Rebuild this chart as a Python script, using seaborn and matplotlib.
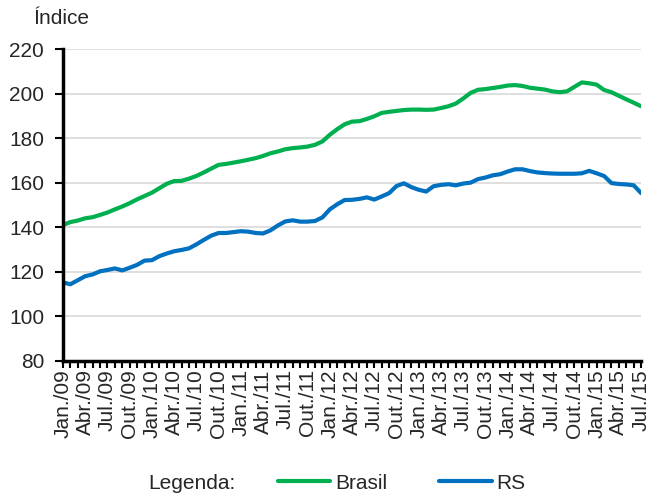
import matplotlib
matplotlib.use("Agg")
import matplotlib.pyplot as plt
from matplotlib.lines import Line2D
import seaborn as sns
import pandas as pd
import numpy as np

months_pt = ["Jan.", "Fev.", "Mar.", "Abr.", "Mai.", "Jun.", "Jul.", "Ago.", "Set.", "Out.", "Nov.", "Dez."]
periods = [f"{months_pt[m]}/{y:02d}" for y in range(9, 16) for m in range(12)][:79]

brasil = [141.0, 142.3, 143.0, 144.0, 144.5, 145.5, 146.6, 148.0, 149.3, 150.8,
          152.5, 154.0, 155.5, 157.5, 159.5, 160.7, 160.8, 161.8, 163.0, 164.6,
          166.3, 168.0, 168.4, 169.0, 169.6, 170.3, 171.0, 172.0, 173.2, 174.0,
          175.0, 175.5, 175.8, 176.2, 177.0, 178.5, 181.5, 184.0, 186.2, 187.4,
          187.6, 188.6, 189.8, 191.3, 191.8, 192.2, 192.6, 192.8, 192.8, 192.7,
          192.8, 193.5, 194.3, 195.5, 197.8, 200.3, 201.7, 202.0, 202.5, 203.0,
          203.6, 203.8, 203.4, 202.6, 202.2, 201.8, 201.0, 200.6, 201.0, 203.0,
          205.0, 204.6, 204.0, 201.6, 200.6, 199.0, 197.4, 195.9, 194.3]

rs = [115.2, 114.4, 116.2, 118.0, 118.8, 120.2, 120.8, 121.5, 120.6, 121.8,
      123.1, 125.0, 125.2, 127.0, 128.2, 129.2, 129.8, 130.5, 132.3, 134.3,
      136.2, 137.4, 137.4, 137.8, 138.2, 138.0, 137.4, 137.2, 138.6, 140.8,
      142.6, 143.1, 142.5, 142.5, 142.8, 144.4, 148.0, 150.3, 152.2, 152.3,
      152.7, 153.4, 152.4, 153.8, 155.3, 158.5, 159.7, 158.0, 156.8, 156.0,
      158.4, 159.0, 159.3, 158.8, 159.6, 160.0, 161.6, 162.3, 163.3, 163.8,
      165.0, 166.0, 166.0, 165.2, 164.6, 164.3, 164.1, 164.0, 164.0, 164.0,
      164.2, 165.3, 164.2, 163.0, 159.8, 159.4, 159.2, 158.8, 155.3]

series_names = ["Brasil", "RS"]
colors = {"Brasil": "#00B050", "RS": "#0070C0"}
yticks = [80, 100, 120, 140, 160, 180, 200, 220]

sns.set_style("white")
plt.rcParams["font.family"] = ["Liberation Sans", "DejaVu Sans"]

idx = np.arange(len(periods))
df = pd.DataFrame({
    "idx": np.concatenate([idx, idx]),
    "valor": brasil + rs,
    "serie": ["Brasil"] * len(brasil) + ["RS"] * len(rs),
})

fig = plt.figure(figsize=(6.54, 4.95), dpi=100)
ax = fig.add_axes([0.0963, 0.271, 0.884, 0.630])

sns.lineplot(data=df, x="idx", y="valor", hue="serie", palette=colors,
             hue_order=series_names, linewidth=3.0, legend=False, ax=ax)

ax.set_xlim(0, len(periods) - 1)
ax.set_ylim(80, 220)
ax.set_yticks(yticks)
ax.set_yticklabels([str(v) for v in yticks], fontsize=15)
ax.yaxis.grid(True, color="#D9D9D9", linewidth=1.2)
ax.set_axisbelow(True)

lab_idx = idx[::3]
ax.set_xticks(lab_idx)
ax.set_xticklabels([periods[i] for i in lab_idx], rotation=90, fontsize=15)
ax.set_xticks(idx, minor=True)
ax.tick_params(axis="x", which="both", direction="out", length=5, width=1.5,
               color="black", pad=1, bottom=True)
ax.tick_params(axis="y", which="major", direction="out", length=5.5, width=1.5,
               color="black", left=True, pad=8)

for s in ["top", "right"]:
    ax.spines[s].set_visible(False)
ax.spines["left"].set_linewidth(2.5)
ax.spines["bottom"].set_linewidth(2.5)
ax.spines["left"].set_color("black")
ax.spines["bottom"].set_color("black")
ax.set_xlabel("")
ax.set_ylabel("")

fig.text(0.051, 0.963, "Índice", fontsize=15, ha="left", va="center")

fig.text(0.226, 0.024, "Legenda:", fontsize=15, ha="left", va="center")
handles = [Line2D([0], [0], color=colors[n], linewidth=3.0) for n in series_names]
fig.legend(handles, series_names, loc="center left", bbox_to_anchor=(0.425, 0.024),
           ncol=2, frameon=False, fontsize=15, handlelength=2.5, handletextpad=0.25,
           columnspacing=2.5, borderpad=0, borderaxespad=0)

fig.savefig("out.png", dpi=100)
